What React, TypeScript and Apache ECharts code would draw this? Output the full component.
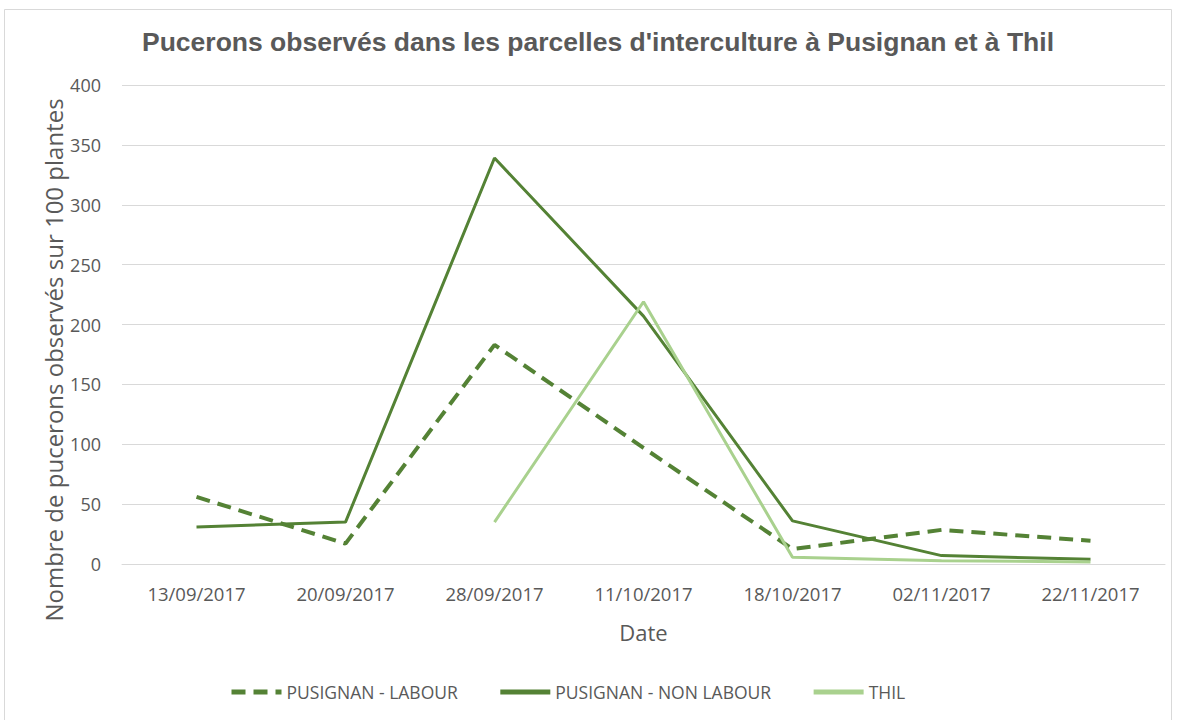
import React, { useEffect, useRef } from "react";
import * as echarts from "echarts";

const dates = ["13/09/2017", "20/09/2017", "28/09/2017", "11/10/2017", "18/10/2017", "02/11/2017", "22/11/2017"];
const labour = [56, 17, 183, 97, 12.5, 28.5, 19.5];
const nonLabour = [31, 35, 339, 207, 36, 7, 4];
const thil = [null, null, 35, 219, 5.6, 2.8, 1.7];
const yTicks = { min: 0, max: 400, interval: 50 };

const DARK = "#548235";
const LIGHT = "#A9D18E";
const GREY = "#595959";
const FONT = "'Open Sans', sans-serif";

export default function App() {
  const ref = useRef<HTMLDivElement>(null);
  useEffect(() => {
    document.body.style.margin = "0";
    const chart = echarts.init(ref.current!, null, { renderer: "svg" });
    chart.setOption({
      animation: false,
      backgroundColor: "#fff",
      textStyle: { fontFamily: FONT },
      graphic: [
        {
          type: "rect",
          shape: { x: 4.5, y: 9.5, width: 1167, height: 720 },
          style: { fill: "none", stroke: "#D9D9D9", lineWidth: 1 },
          silent: true,
        },
        {
          type: "text",
          x: 598,
          y: 42,
          style: {
            text: "Pucerons observés dans les parcelles d'interculture à Pusignan et à Thil",
            fontFamily: "'Liberation Sans', Arial, sans-serif",
            fontWeight: "bold",
            fontSize: 26.5,
            fill: GREY,
            align: "center",
            verticalAlign: "middle",
          },
        },
        {
          type: "text",
          x: 53,
          y: 360,
          rotation: Math.PI / 2,
          style: {
            text: "Nombre de pucerons observés sur 100 plantes",
            fontFamily: FONT,
            fontSize: 24,
            fill: GREY,
            align: "center",
            verticalAlign: "middle",
          },
        },
      ],
      grid: { left: 122, right: 13, top: 85, bottom: 156 },
      legend: {
        left: 224,
        top: 678,
        itemGap: 40,
        itemWidth: 50,
        itemHeight: 14,
        itemStyle: { opacity: 0 },
        lineStyle: { width: 5 },
        textStyle: { color: GREY, fontSize: 17.5, fontFamily: FONT },
        data: ["PUSIGNAN - LABOUR", "PUSIGNAN - NON LABOUR", "THIL"],
      },
      xAxis: {
        type: "category",
        data: dates,
        boundaryGap: true,
        axisLine: { show: true, lineStyle: { color: "#D9D9D9" } },
        axisTick: { show: false },
        axisLabel: { color: GREY, fontSize: 18.5, margin: 20, fontFamily: FONT },
        name: "Date",
        nameLocation: "middle",
        nameGap: 57,
        nameTextStyle: { color: GREY, fontSize: 22, fontFamily: FONT },
      },
      yAxis: {
        type: "value",
        min: yTicks.min,
        max: yTicks.max,
        interval: yTicks.interval,
        axisLine: { show: false },
        axisTick: { show: false },
        splitLine: { lineStyle: { color: "#D9D9D9", width: 1 } },
        axisLabel: { color: GREY, fontSize: 18, margin: 21, fontFamily: FONT },
      },
      series: [
        {
          name: "PUSIGNAN - LABOUR",
          type: "line",
          data: labour,
          symbol: "none",
          lineStyle: { color: DARK, width: 4, type: [14, 8] },
          itemStyle: { color: DARK },
        },
        {
          name: "PUSIGNAN - NON LABOUR",
          type: "line",
          data: nonLabour,
          symbol: "none",
          lineStyle: { color: DARK, width: 3 },
          itemStyle: { color: DARK },
        },
        {
          name: "THIL",
          type: "line",
          data: thil,
          symbol: "none",
          connectNulls: false,
          lineStyle: { color: LIGHT, width: 3 },
          itemStyle: { color: LIGHT },
        },
      ],
    });
    return () => chart.dispose();
  }, []);
  return <div ref={ref} style={{ width: 1178, height: 720 }} />;
}
